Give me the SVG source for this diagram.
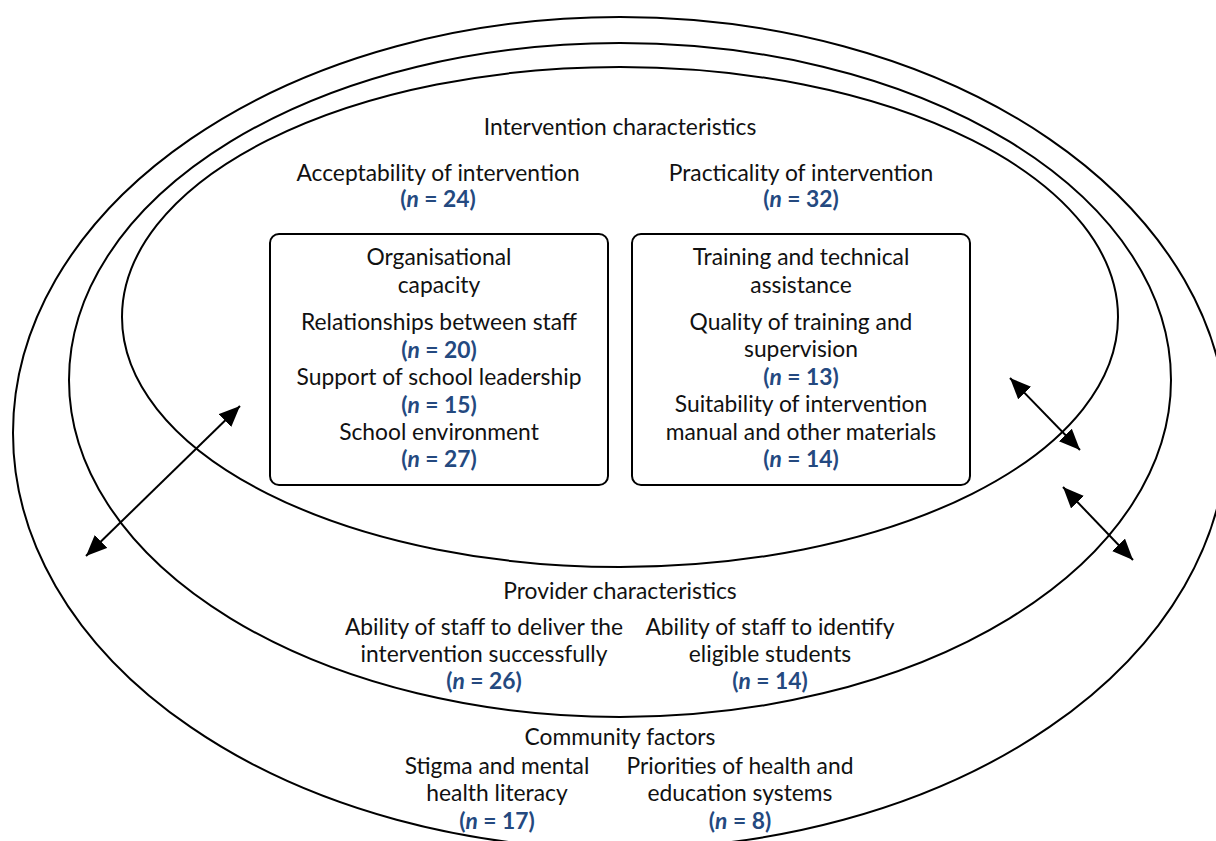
<svg xmlns="http://www.w3.org/2000/svg" width="1216" height="841" viewBox="0 0 1216 841">
<style>
.ring{fill:none;stroke:#000;stroke-width:2}
.box{fill:none;stroke:#000;stroke-width:2}
text{font-family:Lato,"Noto Sans","Liberation Sans",sans-serif;font-size:22.8px;fill:#111;text-anchor:middle}
.n{fill:#24497f;font-weight:bold}
.i{font-style:italic}
.con{stroke:#000;stroke-width:2;fill:none;marker-start:url(#ah);marker-end:url(#ah)}
</style>
<defs>
<marker id="ah" markerUnits="userSpaceOnUse" markerWidth="24" markerHeight="20" refX="21" refY="9" orient="auto-start-reverse" viewBox="0 0 24 20">
<path d="M0,0 L21,9 L0,18 z" fill="#000"/>
</marker>
</defs>
<rect width="1216" height="841" fill="#fff"/>

<g id="community">
<ellipse class="ring" cx="620" cy="433" rx="607" ry="416"/>
<text x="620" y="745">Community factors</text>
<text x="497" y="774">Stigma and mental</text>
<text x="497" y="801">health literacy</text>
<text x="497" y="829" class="n">(<tspan class="i">n</tspan> = 17)</text>
<text x="740" y="774">Priorities of health and</text>
<text x="740" y="801">education systems</text>
<text x="740" y="829" class="n">(<tspan class="i">n</tspan> = 8)</text>
</g>

<g id="provider">
<ellipse class="ring" cx="620" cy="380" rx="551" ry="337"/>
<text x="620" y="599">Provider characteristics</text>
<text x="484" y="635">Ability of staff to deliver the</text>
<text x="484" y="662">intervention successfully</text>
<text x="484" y="689" class="n">(<tspan class="i">n</tspan> = 26)</text>
<text x="770" y="635">Ability of staff to identify</text>
<text x="770" y="662">eligible students</text>
<text x="770" y="689" class="n">(<tspan class="i">n</tspan> = 14)</text>
</g>

<g id="intervention">
<ellipse class="ring" cx="620" cy="317" rx="498" ry="250"/>
<text x="620" y="135">Intervention characteristics</text>
<text x="438" y="181">Acceptability of intervention</text>
<text x="438" y="207" class="n">(<tspan class="i">n</tspan> = 24)</text>
<text x="801" y="181">Practicality of intervention</text>
<text x="801" y="207" class="n">(<tspan class="i">n</tspan> = 32)</text>
</g>

<g id="organisational">
<rect class="box" x="270" y="234" width="338" height="251" rx="9"/>
<text x="439" y="265">Organisational</text>
<text x="439" y="293">capacity</text>
<text x="439" y="330">Relationships between staff</text>
<text x="439" y="358" class="n">(<tspan class="i">n</tspan> = 20)</text>
<text x="439" y="385">Support of school leadership</text>
<text x="439" y="413" class="n">(<tspan class="i">n</tspan> = 15)</text>
<text x="439" y="440">School environment</text>
<text x="439" y="467" class="n">(<tspan class="i">n</tspan> = 27)</text>
</g>

<g id="training">
<rect class="box" x="632" y="234" width="338" height="251" rx="9"/>
<text x="801" y="265">Training and technical</text>
<text x="801" y="293">assistance</text>
<text x="801" y="330">Quality of training and</text>
<text x="801" y="357">supervision</text>
<text x="801" y="385" class="n">(<tspan class="i">n</tspan> = 13)</text>
<text x="801" y="412">Suitability of intervention</text>
<text x="801" y="440">manual and other materials</text>
<text x="801" y="467" class="n">(<tspan class="i">n</tspan> = 14)</text>
</g>

<g id="connectors">
<line class="con" x1="86" y1="556" x2="240" y2="406"/>
<line class="con" x1="1010" y1="378" x2="1080" y2="450"/>
<line class="con" x1="1063" y1="487" x2="1133" y2="560"/>
</g>
</svg>
